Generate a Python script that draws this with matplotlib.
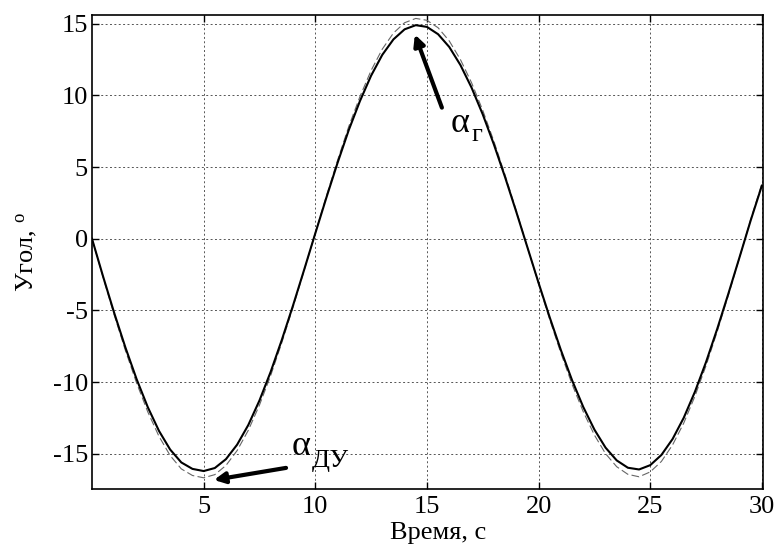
import numpy as np
import matplotlib
matplotlib.use("Agg")
import matplotlib.pyplot as plt

plt.rcParams['font.family'] = ['Liberation Serif', 'DejaVu Serif']
plt.rcParams['mathtext.fontset'] = 'custom'
plt.rcParams['mathtext.rm'] = 'Liberation Serif'
plt.rcParams['mathtext.it'] = 'Liberation Serif:italic'

# time, s (0.5 s step)
time_s = [i * 0.5 for i in range(61)]

# solid curve (alpha_g)
angle_g = [0.0, -2.65, -5.2, -7.6, -9.8, -11.75, -13.4, -14.7, -15.6, -16.05,
           -16.2, -15.99, -15.37, -14.36, -12.99, -11.28, -9.29, -7.06, -4.67, -2.17,
           0.37, 2.88, 5.30, 7.58, 9.60, 11.37, 12.82, 13.90, 14.60, 14.89,
           14.77, 14.26, 13.37, 12.11, 10.53, 8.67, 6.57, 4.29, 1.88, -0.60,
           -3.08, -5.49, -7.77, -9.87, -11.73, -13.31, -14.57, -15.46, -15.97, -16.09,
           -15.79, -15.08, -13.97, -12.49, -10.68, -8.60, -6.29, -3.83, -1.29, 1.28,
           3.70]

# dashed curve (alpha_DU)
angle_du = [0.0, -2.71, -5.34, -7.81, -10.07, -12.08, -13.78, -15.12, -16.05, -16.51,
            -16.67, -16.45, -15.81, -14.77, -13.36, -11.60, -9.55, -7.25, -4.79, -2.22,
            0.40, 2.99, 5.48, 7.83, 9.91, 11.73, 13.22, 14.34, 15.06, 15.36,
            15.23, 14.71, 13.79, 12.49, 10.87, 8.95, 6.79, 4.44, 1.96, -0.60,
            -3.15, -5.64, -7.98, -10.15, -12.06, -13.69, -14.99, -15.90, -16.43, -16.60,
            -16.26, -15.53, -14.38, -12.86, -10.99, -8.85, -6.47, -3.94, -1.31, 1.34,
            3.83]

x_ticks = [5, 10, 15, 20, 25, 30]
y_ticks = [-15, -10, -5, 0, 5, 10, 15]

fig = plt.figure(figsize=(7.75, 5.45), dpi=100)
ax = fig.add_axes([0.1187, 0.1028, 0.8658, 0.8697])

ax.plot(time_s, angle_du, color='#666666', lw=0.8, dashes=(7, 3))
ax.plot(time_s, angle_g, color='black', lw=1.5)

ax.set_xlim(0, 30.05)
ax.set_ylim(-17.45, 15.6)
ax.set_xticks(x_ticks)
ax.set_yticks(y_ticks)
ax.set_xticklabels([str(v) for v in x_ticks])
ax.set_yticklabels([str(v) for v in y_ticks])
ax.tick_params(direction='in', length=5, width=1, top=True, right=True,
               labelsize=19)
ax.tick_params(axis='y', pad=3)
ax.tick_params(axis='x', pad=5)
ax.grid(True, color='#555555', linestyle=(0, (2, 2.5)), linewidth=0.7)
for s in ax.spines.values():
    s.set_linewidth(1.2)

ax.set_xlabel('Время, с', fontsize=19)
ax.xaxis.set_label_coords(0.516, -0.07)
ax.set_ylabel(r'Угол, $^{\mathrm{o}}$', fontsize=19, labelpad=10)

arrow_kw = dict(arrowstyle='-|>', lw=3, color='black', mutation_scale=16,
                shrinkA=0, shrinkB=0)
ax.annotate('', xy=(14.46, 14.24), xytext=(15.67, 9.14), arrowprops=arrow_kw)
ax.annotate('', xy=(5.46, -16.82), xytext=(8.69, -15.98), arrowprops=arrow_kw)

ax.text(16.05, 8.0, 'α', fontsize=26, ha='left', va='center')
ax.text(17.0, 7.2, 'г', fontsize=19, ha='left', va='center')
ax.text(8.95, -14.5, 'α', fontsize=26, ha='left', va='center')
ax.text(9.85, -15.5, 'ДУ', fontsize=19, ha='left', va='center')

fig.savefig('out.png', dpi=100)
